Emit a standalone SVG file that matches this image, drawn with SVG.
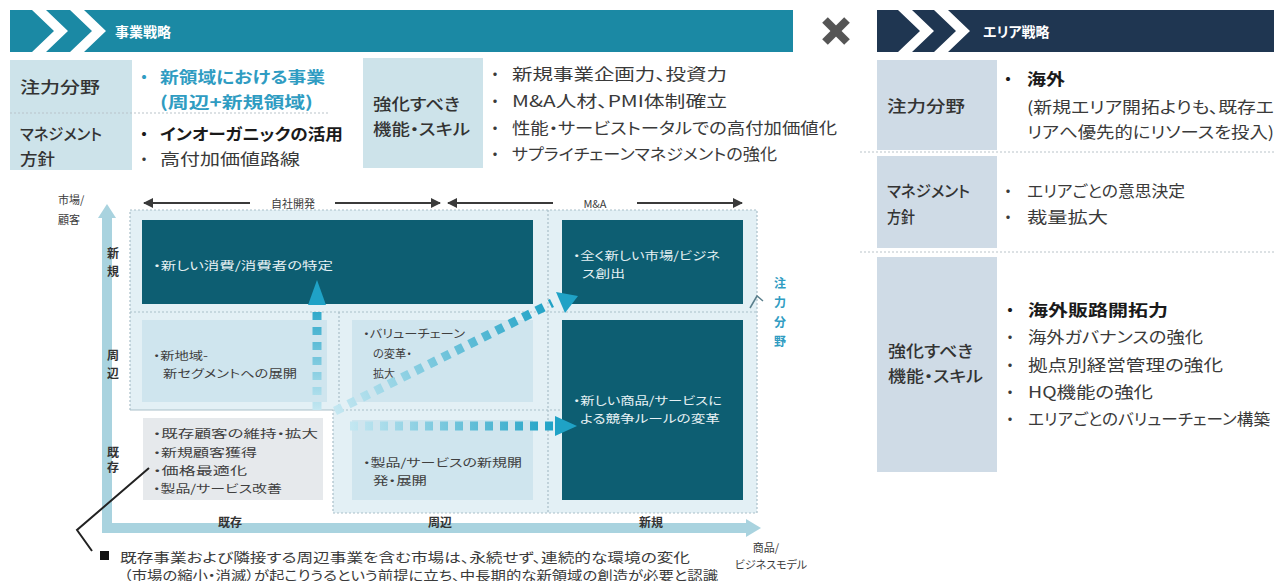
<svg xmlns="http://www.w3.org/2000/svg" width="1274" height="581" viewBox="0 0 1274 581">
<style>
text{font-family:"Noto Sans CJK JP","Noto Sans",sans-serif;font-feature-settings:"palt";dominant-baseline:central}
.hd{fill:#fff;font-size:14px;font-weight:700}
.lb{fill:#333;font-size:16px;font-weight:500}
.tx{fill:#3a3a3a;font-size:16px}
.bd{fill:#1a1a1a;font-size:16px;font-weight:700}
.tl{fill:#2f9cc2;font-size:16px;font-weight:700}
.cw{fill:#e6f1f4;font-size:11.5px}
.cd{fill:#3f3f3f;font-size:11.5px}
.ax{fill:#3a3a3a;font-size:11px}
.rl{fill:#333;font-size:12px;font-weight:700;text-anchor:middle}
.sep{stroke:#b9c4ca;stroke-width:1.2;stroke-dasharray:2 2;fill:none}
.grid{stroke:#a9bfc9;stroke-width:1.2;stroke-dasharray:2 2;fill:none}
.dark{fill:#0d5e72}
.light{fill:#cfe5ee}
.blk{stroke:#3a3a3a;stroke-width:2;fill:none}
</style>
<defs>
<marker id="ah" viewBox="0 0 10 10" refX="9" refY="5" markerWidth="5" markerHeight="5" orient="auto-start-reverse"><path d="M0,0 L10,5 L0,10 z" fill="#3a3a3a"/></marker>
<linearGradient id="gV" gradientUnits="userSpaceOnUse" x1="0" y1="410" x2="0" y2="300"><stop offset="0" stop-color="#c4e7f1"/><stop offset="1" stop-color="#1fa2c6"/></linearGradient>
<linearGradient id="gH" gradientUnits="userSpaceOnUse" x1="350" y1="0" x2="555" y2="0"><stop offset="0" stop-color="#c4e7f1"/><stop offset="1" stop-color="#1fa2c6"/></linearGradient>
<linearGradient id="gD" gradientUnits="userSpaceOnUse" x1="335" y1="411" x2="552" y2="303"><stop offset="0" stop-color="#c4e7f1"/><stop offset="1" stop-color="#1fa2c6"/></linearGradient>
</defs>
<rect width="1274" height="581" fill="#fff"/>

<!-- Left header -->
<g id="header-business">
<rect x="10" y="10" width="783" height="42" fill="#1b89a4"/>
<polygon points="32,10 46,10 68,31 46,52 32,52 54,31" fill="#fff"/>
<polygon points="70,10 84,10 106,31 84,52 70,52 92,31" fill="#fff"/>
<text class="hd" x="115" y="31">事業戦略</text>
</g>

<g id="cross-mark">
<line x1="825" y1="20" x2="847" y2="42" stroke="#555" stroke-width="8"/>
<line x1="847" y1="20" x2="825" y2="42" stroke="#555" stroke-width="8"/>
</g>

<!-- Right header -->
<g id="header-area">
<rect x="877" y="10" width="397" height="42" fill="#1f3651"/>
<polygon points="898,10 912,10 934,31 912,52 898,52 920,31" fill="#fff"/>
<polygon points="934,10 948,10 970,31 948,52 934,52 956,31" fill="#fff"/>
<text class="hd" x="983" y="31">エリア戦略</text>
</g>

<!-- Left table -->
<g id="biz-focus">
<rect x="10" y="60" width="122" height="110" fill="#cde3ea"/>
<line class="sep" x1="10" y1="113" x2="330" y2="113"/>
<text class="lb" x="20" y="86" textLength="80" lengthAdjust="spacingAndGlyphs">注力分野</text>
<text class="tl" x="140" y="76">・</text>
<text class="tl" x="160" y="76" textLength="165" lengthAdjust="spacingAndGlyphs">新領域における事業</text>
<text class="tl" x="160" y="101" textLength="153" lengthAdjust="spacingAndGlyphs">(周辺+新規領域)</text>
</g>
<g id="biz-management">
<text class="lb" x="20" y="133" textLength="82" lengthAdjust="spacingAndGlyphs">マネジメント</text>
<text class="lb" x="20" y="158" textLength="35" lengthAdjust="spacingAndGlyphs">方針</text>
<text class="bd" x="140" y="133">・</text>
<text class="bd" x="160" y="133" textLength="183" lengthAdjust="spacingAndGlyphs">インオーガニックの活用</text>
<text class="tx" x="140" y="158">・</text>
<text class="tx" x="160" y="158" textLength="140" lengthAdjust="spacingAndGlyphs">高付加価値路線</text>
</g>
<g id="biz-skills">
<rect x="363" y="58" width="120" height="110" fill="#cde3ea"/>
<text class="lb" x="373" y="103" textLength="87" lengthAdjust="spacingAndGlyphs">強化すべき</text>
<text class="lb" x="373" y="128" textLength="97" lengthAdjust="spacingAndGlyphs">機能・スキル</text>
<text class="tx" x="491" y="73">・</text>
<text class="tx" x="512" y="73" textLength="215" lengthAdjust="spacingAndGlyphs">新規事業企画力、投資力</text>
<text class="tx" x="491" y="100">・</text>
<text class="tx" x="512" y="100" textLength="215" lengthAdjust="spacingAndGlyphs">M&amp;A人材、PMI体制確立</text>
<text class="tx" x="491" y="127">・</text>
<text class="tx" x="512" y="127" textLength="325" lengthAdjust="spacingAndGlyphs">性能・サービストータルでの高付加価値化</text>
<text class="tx" x="491" y="153">・</text>
<text class="tx" x="512" y="153" textLength="265" lengthAdjust="spacingAndGlyphs">サプライチェーンマネジメントの強化</text>
</g>

<!-- Right table -->
<g id="area-focus">
<rect x="877" y="60" width="120" height="90" fill="#cfdbe6"/>
<text class="lb" x="887" y="105" textLength="78" lengthAdjust="spacingAndGlyphs">注力分野</text>
<text class="bd" x="1004" y="78">・</text>
<text class="bd" x="1027" y="78" textLength="38" lengthAdjust="spacingAndGlyphs">海外</text>
<text class="tx" x="1027" y="106" textLength="247" lengthAdjust="spacingAndGlyphs">(新規エリア開拓よりも、既存エ</text>
<text class="tx" x="1027" y="131" textLength="247" lengthAdjust="spacingAndGlyphs">リアへ優先的にリソースを投入)</text>
</g>
<line class="sep" x1="860" y1="152" x2="1274" y2="152"/>
<g id="area-management">
<rect x="877" y="156" width="120" height="92" fill="#cfdbe6"/>
<text class="lb" x="887" y="190" textLength="83" lengthAdjust="spacingAndGlyphs">マネジメント</text>
<text class="lb" x="887" y="216" textLength="28" lengthAdjust="spacingAndGlyphs">方針</text>
<text class="tx" x="1004" y="190">・</text>
<text class="tx" x="1027" y="190" textLength="158" lengthAdjust="spacingAndGlyphs">エリアごとの意思決定</text>
<text class="tx" x="1004" y="216">・</text>
<text class="tx" x="1027" y="216" textLength="81" lengthAdjust="spacingAndGlyphs">裁量拡大</text>
</g>
<line class="sep" x1="860" y1="252" x2="1274" y2="252"/>
<g id="area-skills">
<rect x="877" y="257" width="120" height="215" fill="#cfdbe6"/>
<text class="lb" x="888" y="350" textLength="85" lengthAdjust="spacingAndGlyphs">強化すべき</text>
<text class="lb" x="888" y="375" textLength="95" lengthAdjust="spacingAndGlyphs">機能・スキル</text>
<text class="bd" x="1006" y="309">・</text>
<text class="bd" x="1028" y="309" textLength="140" lengthAdjust="spacingAndGlyphs">海外販路開拓力</text>
<text class="tx" x="1006" y="336">・</text>
<text class="tx" x="1028" y="336" textLength="175" lengthAdjust="spacingAndGlyphs">海外ガバナンスの強化</text>
<text class="tx" x="1006" y="364">・</text>
<text class="tx" x="1028" y="364" textLength="195" lengthAdjust="spacingAndGlyphs">拠点別経営管理の強化</text>
<text class="tx" x="1006" y="391">・</text>
<text class="tx" x="1028" y="391" textLength="125" lengthAdjust="spacingAndGlyphs">HQ機能の強化</text>
<text class="tx" x="1006" y="418">・</text>
<text class="tx" x="1028" y="418" textLength="242" lengthAdjust="spacingAndGlyphs">エリアごとのバリューチェーン構築</text>
</g>

<!-- Matrix background -->
<g id="matrix-frame">
<polygon points="130,210 757,210 757,513 333,513 333,410 130,410" fill="#e3f0f5"/>
<polygon class="grid" points="130,210 757,210 757,513 333,513 333,410 130,410"/>
<line class="grid" x1="130" y1="312" x2="757" y2="312"/>
<line class="grid" x1="130" y1="410" x2="560" y2="410"/>
<line class="grid" x1="339" y1="312" x2="339" y2="410"/>
<line class="grid" x1="548" y1="210" x2="548" y2="513"/>
</g>

<!-- Cells -->
<g id="cell-new-own">
<rect class="dark" x="142" y="220" width="391" height="84"/>
<text class="cw" x="153" y="265" textLength="180" lengthAdjust="spacingAndGlyphs">・新しい消費/消費者の特定</text>
</g>
<g id="cell-new-new">
<rect class="dark" x="562" y="220" width="181" height="84"/>
<text class="cw" x="573" y="255" textLength="147" lengthAdjust="spacingAndGlyphs">・全く新しい市場/ビジネ</text>
<text class="cw" x="582" y="273" textLength="43" lengthAdjust="spacingAndGlyphs">ス創出</text>
</g>
<g id="cell-periph-existing">
<rect class="light" x="142" y="320" width="185" height="82"/>
<text class="cd" x="153" y="355" textLength="55" lengthAdjust="spacingAndGlyphs">・新地域-</text>
<text class="cd" x="163" y="373" textLength="134" lengthAdjust="spacingAndGlyphs">新セグメントへの展開</text>
</g>
<g id="cell-periph-periph">
<rect class="light" x="352" y="320" width="181" height="82"/>
<text class="cd" x="363" y="333" textLength="102" lengthAdjust="spacingAndGlyphs">・バリューチェーン</text>
<text class="cd" x="373" y="353" textLength="39" lengthAdjust="spacingAndGlyphs">の変革・</text>
<text class="cd" x="373" y="373" textLength="22" lengthAdjust="spacingAndGlyphs">拡大</text>
</g>
<g id="cell-new-product">
<rect class="dark" x="562" y="320" width="181" height="180"/>
<text class="cw" x="573" y="400" textLength="149" lengthAdjust="spacingAndGlyphs">・新しい商品/サービスに</text>
<text class="cw" x="580" y="418" textLength="140" lengthAdjust="spacingAndGlyphs">よる競争ルールの変革</text>
</g>
<g id="cell-existing-existing">
<rect x="143" y="418" width="180" height="82" fill="#e6e9ec"/>
<text class="cd" x="153" y="433" textLength="165" lengthAdjust="spacingAndGlyphs">・既存顧客の維持・拡大</text>
<text class="cd" x="153" y="452" textLength="104" lengthAdjust="spacingAndGlyphs">・新規顧客獲得</text>
<text class="cd" x="153" y="470" textLength="94" lengthAdjust="spacingAndGlyphs">・価格最適化</text>
<text class="cd" x="153" y="488" textLength="129" lengthAdjust="spacingAndGlyphs">・製品/サービス改善</text>
</g>
<g id="cell-existing-periph">
<rect class="light" x="352" y="420" width="181" height="80"/>
<text class="cd" x="363" y="462" textLength="159" lengthAdjust="spacingAndGlyphs">・製品/サービスの新規開</text>
<text class="cd" x="373" y="480" textLength="54" lengthAdjust="spacingAndGlyphs">発・展開</text>
</g>

<!-- Axes and labels -->
<g id="axes">
<path d="M107,528 L107,215" stroke="#a9d3df" stroke-width="10" fill="none"/>
<polygon points="98,218 116,218 107,204" fill="#a9d3df"/>
<path d="M102,528 L748,528" stroke="#a9d3df" stroke-width="10" fill="none"/>
<polygon points="746,519 746,537 761,528" fill="#a9d3df"/>
<text class="ax" x="58" y="199">市場/</text>
<text class="ax" x="58" y="219">顧客</text>
<text class="rl" x="113" y="252">新</text>
<text class="rl" x="113" y="270">規</text>
<text class="rl" x="113" y="354">周</text>
<text class="rl" x="113" y="372">辺</text>
<text class="rl" x="113" y="451">既</text>
<text class="rl" x="113" y="466">存</text>
<text class="rl" x="230" y="521">既存</text>
<text class="rl" x="440" y="521">周辺</text>
<text class="rl" x="651" y="521">新規</text>
<text class="ax" x="766" y="547" text-anchor="middle">商品/</text>
<text class="ax" x="771" y="564" text-anchor="middle">ビジネスモデル</text>
<text class="ax" x="780" y="282" text-anchor="middle" style="fill:#2f9cc2;font-size:12px;font-weight:700">注</text>
<text class="ax" x="780" y="301" text-anchor="middle" style="fill:#2f9cc2;font-size:12px;font-weight:700">力</text>
<text class="ax" x="780" y="321" text-anchor="middle" style="fill:#2f9cc2;font-size:12px;font-weight:700">分</text>
<text class="ax" x="780" y="340" text-anchor="middle" style="fill:#2f9cc2;font-size:12px;font-weight:700">野</text>
<polyline points="750,308 757,296 763,301" stroke="#5a7f8c" stroke-width="1.5" fill="none"/>
<text class="ax" x="293" y="203" text-anchor="middle">自社開発</text>
<text class="ax" x="595" y="203" text-anchor="middle">M&amp;A</text>
</g>

<!-- Connectors -->
<g id="connectors">
<line class="blk" x1="250" y1="203" x2="144" y2="203" marker-end="url(#ah)"/>
<line class="blk" x1="335" y1="203" x2="440" y2="203" marker-end="url(#ah)"/>
<line class="blk" x1="553" y1="203" x2="448" y2="203" marker-end="url(#ah)"/>
<line class="blk" x1="637" y1="203" x2="742" y2="203" marker-end="url(#ah)"/>
<line x1="317" y1="410" x2="317" y2="305" stroke="url(#gV)" stroke-width="9" stroke-dasharray="8 7"/>
<polygon points="308,305 326,305 317,280" fill="#1fa2c6"/>
<line x1="350" y1="426" x2="555" y2="426" stroke="url(#gH)" stroke-width="9" stroke-dasharray="8 7"/>
<polygon points="555,416 555,436 577,426" fill="#1fa2c6"/>
<line x1="335" y1="411" x2="552" y2="303" stroke="url(#gD)" stroke-width="9" stroke-dasharray="8 7"/>
<polygon points="556,292 578,296 565,313" fill="#1fa2c6"/>
<polyline points="149,468 77,530 92,551" stroke="#222" stroke-width="2" fill="none"/>
</g>

<!-- Bottom note -->
<g id="note">
<rect x="100" y="551" width="9" height="9" fill="#111"/>
<text class="tx" x="120" y="556" style="font-size:13px" textLength="570" lengthAdjust="spacingAndGlyphs">既存事業および隣接する周辺事業を含む市場は、永続せず、連続的な環境の変化</text>
<text class="tx" x="124" y="574" style="font-size:13px" textLength="594" lengthAdjust="spacingAndGlyphs">（市場の縮小・消滅）が起こりうるという前提に立ち、中長期的な新領域の創造が必要と認識</text>
</g>
</svg>
